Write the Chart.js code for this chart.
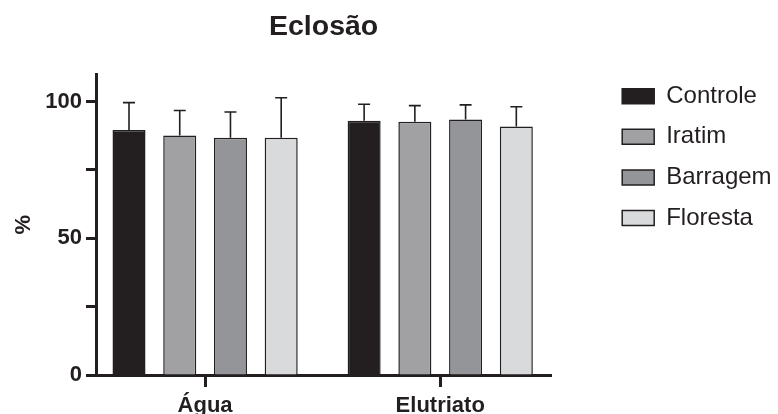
<!DOCTYPE html>
<html>
<head>
<meta charset="utf-8">
<script src="https://cdn.jsdelivr.net/npm/chart.js@4.4.1/dist/chart.umd.min.js"></script>
<style>
  html, body { margin: 0; padding: 0; background: #fff; }
  #wrap { width: 778px; height: 414px; }
</style>
</head>
<body>
<div id="wrap"><canvas id="chart" width="778" height="414"></canvas></div>
<script>
// ── data ──
const groups = ['Água', 'Elutriato'];
const series = ['Controle', 'Iratim', 'Barragem', 'Floresta'];
const controle = [89.6, 93.0];
const controleErr = [10.0, 6.0];
const iratim = [87.6, 92.6];
const iratimErr = [9.1, 5.9];
const barragem = [86.8, 93.4];
const barragemErr = [9.4, 5.4];
const floresta = [86.8, 90.9];
const florestaErr = [14.6, 7.2];
const yTicks = [0, 25, 50, 75, 100];
const yLabels = [0, 50, 100];

const INK = '#231f20';
const FILLS = ['#231f20', '#a1a1a4', '#939598', '#d9dadc'];
const FONT = "'Liberation Sans', Arial, sans-serif";

const values = [controle, iratim, barragem, floresta];
const errors = [controleErr, iratimErr, barragemErr, florestaErr];

// ── one-sided error bars on top of each bar ──
const errorBars = {
    id: 'errorBars',
    afterDatasetsDraw(chart) {
        const ctx = chart.ctx;
        const y = chart.scales.y;
        ctx.save();
        ctx.strokeStyle = INK;
        ctx.lineWidth = 1.6;
        chart.data.datasets.forEach((ds, i) => {
            chart.getDatasetMeta(i).data.forEach((bar, j) => {
                const top = y.getPixelForValue(ds.data[j].y + ds.errors[j]);
                ctx.beginPath();
                ctx.moveTo(bar.x, bar.y);
                ctx.lineTo(bar.x, top);
                ctx.moveTo(bar.x - 6, top);
                ctx.lineTo(bar.x + 6, top);
                ctx.stroke();
            });
        });
        ctx.restore();
    }
};

const datasets = series.map((name, i) => ({
    label: name,
    data: values[i].map((v, j) => ({ x: j, y: v })),
    errors: errors[i],
    backgroundColor: FILLS[i],
    borderColor: INK,
    borderWidth: 1.5,
    categoryPercentage: 0.863,
    barPercentage: 0.651,
}));

new Chart(document.getElementById('chart'), {
    type: 'bar',
    data: { datasets },
    plugins: [errorBars],
    options: {
        responsive: false,
        animation: false,
        layout: { padding: { left: 0, right: 0, top: 0, bottom: 0 } },
        plugins: {
            title: {
                display: true,
                text: 'Eclosão',
                fullSize: false,
                color: INK,
                font: { family: FONT, size: 28.5, weight: 'bold' },
                padding: { top: 10, bottom: 30 }
            },
            legend: {
                position: 'right',
                align: 'start',
                maxWidth: 172.4,
                title: {
                    display: true,
                    text: ' ',
                    font: { size: 10 },
                    padding: { top: 55.6, bottom: 0 }
                },
                labels: {
                    color: INK,
                    boxWidth: 32,
                    boxHeight: 15,
                    padding: 16.6,
                    font: { family: FONT, size: 24 }
                }
            },
            tooltip: { enabled: false }
        },
        scales: {
            x: {
                type: 'linear',
                offset: false,
                min: -0.464,
                max: 1.472,
                afterBuildTicks: s => { s.ticks = groups.map((g, i) => ({ value: i })); },
                afterFit: s => { s.height = 39; },
                border: { color: INK, width: 3 },
                grid: {
                    offset: false,
                    drawOnChartArea: false,
                    tickLength: 12,
                    tickWidth: 3,
                    tickColor: INK
                },
                ticks: {
                    color: INK,
                    padding: 6,
                    font: { family: FONT, size: 22, weight: 'bold' },
                    callback: v => groups[v]
                }
            },
            y: {
                min: 0,
                max: 110,
                afterBuildTicks: s => { s.ticks = yTicks.map(v => ({ value: v })); },
                afterFit: s => { s.width = 96; },
                border: { color: INK, width: 3 },
                grid: {
                    drawOnChartArea: false,
                    tickLength: 10,
                    tickWidth: 3,
                    tickColor: INK
                },
                ticks: {
                    color: INK,
                    padding: 4,
                    font: { family: FONT, size: 22, weight: 'bold' },
                    callback: v => yLabels.includes(v) ? String(v) : ''
                },
                title: {
                    display: true,
                    text: '%',
                    color: INK,
                    padding: { top: 11, bottom: 0 },
                    font: { family: FONT, size: 22, weight: 'bold' }
                }
            },
            // empty spacer between plot and legend
            yR: {
                position: 'right',
                display: true,
                afterFit: s => { s.width = 54.4; },
                border: { display: false },
                grid: { display: false },
                ticks: { display: false }
            }
        }
    }
});
</script>
</body>
</html>
